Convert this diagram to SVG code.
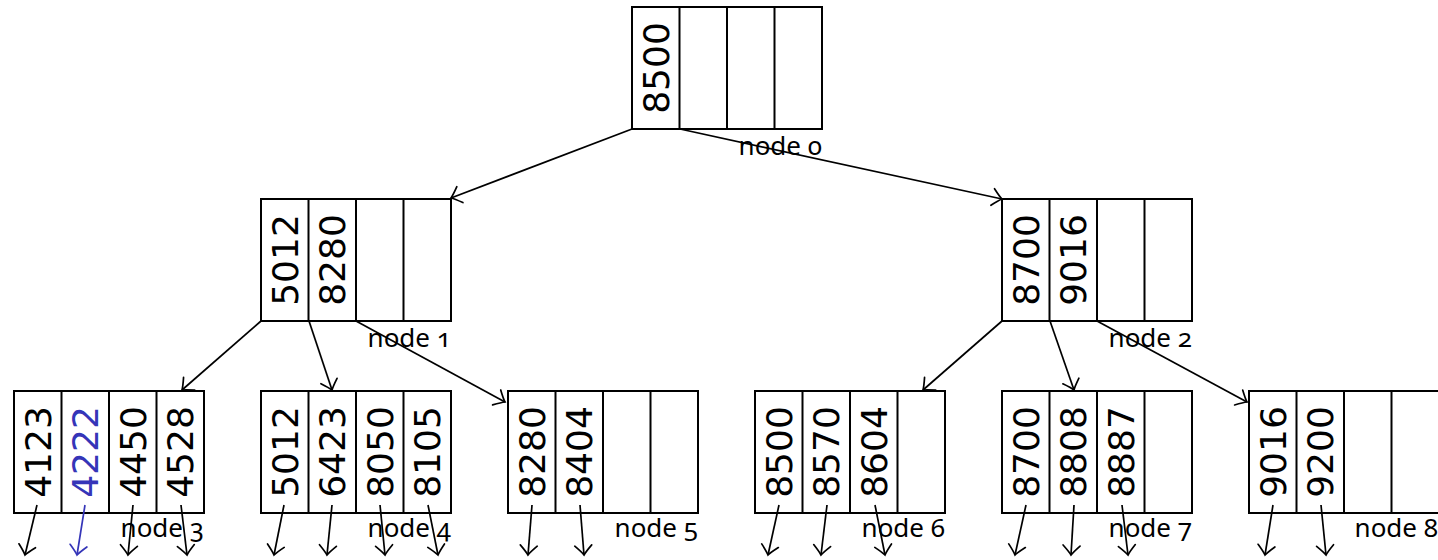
<svg xmlns="http://www.w3.org/2000/svg" width="1438" height="560" viewBox="0 0 1438 560">
  <defs>
    <style>
      .box { fill: #ffffff; stroke: #000000; stroke-width: 2; }
      .div { stroke: #000000; stroke-width: 2; }
      .key { font-family: "DejaVu Sans", "Liberation Sans", sans-serif; font-size: 36px; fill: #000000; text-anchor: middle; }
      .key.hl { fill: #3535b8; }
      .lbl { font-family: "Noto Sans", "Open Sans", sans-serif; font-size: 26px; fill: #000000; text-anchor: end; font-variant-numeric: oldstyle-nums; font-feature-settings: "onum" 1; }
      .edge { fill: none; stroke: #000000; stroke-width: 1.7; marker-end: url(#tip); }
      .edge.hl { stroke: #3535b8; marker-end: url(#tipBlue); }
    </style>
    <marker id="tip" markerUnits="userSpaceOnUse" markerWidth="28" markerHeight="28" viewBox="-14 -14 28 28" refX="0" refY="0" orient="auto">
      <path d="M -9.5 -8.5 Q -3 -2 0 0 Q -3 2 -9.5 8.5" fill="none" stroke="#000000" stroke-width="1.7" stroke-linecap="round"/>
    </marker>
    <marker id="tipBlue" markerUnits="userSpaceOnUse" markerWidth="28" markerHeight="28" viewBox="-14 -14 28 28" refX="0" refY="0" orient="auto">
      <path d="M -9.5 -8.5 Q -3 -2 0 0 Q -3 2 -9.5 8.5" fill="none" stroke="#3535b8" stroke-width="1.7" stroke-linecap="round"/>
    </marker>
  </defs>

  <rect x="0" y="0" width="1438" height="560" fill="#ffffff"/>

  <!-- tree nodes: four key slots each, 47.5 x 122 per slot -->
  <g id="node0">
    <rect class="box" x="632" y="7" width="190" height="122"/>
    <path class="div" d="M679.5 7V129M727 7V129M774.5 7V129"/>
    <text class="key" transform="translate(655.75 68) rotate(-90)" y="13">8500</text>
    <text class="lbl" x="822" y="155">node 0</text>
  </g>

  <g id="node1">
    <rect class="box" x="261" y="199" width="190" height="122"/>
    <path class="div" d="M308.5 199V321M356 199V321M403.5 199V321"/>
    <text class="key" transform="translate(284.75 260) rotate(-90)" y="13">5012</text>
    <text class="key" transform="translate(332.25 260) rotate(-90)" y="13">8280</text>
    <text class="lbl" x="451" y="347">node 1</text>
  </g>

  <g id="node2">
    <rect class="box" x="1002" y="199" width="190" height="122"/>
    <path class="div" d="M1049.5 199V321M1097 199V321M1144.5 199V321"/>
    <text class="key" transform="translate(1025.75 260) rotate(-90)" y="13">8700</text>
    <text class="key" transform="translate(1073.25 260) rotate(-90)" y="13">9016</text>
    <text class="lbl" x="1192" y="347">node 2</text>
  </g>

  <g id="node3">
    <rect class="box" x="14" y="391" width="190" height="122"/>
    <path class="div" d="M61.5 391V513M109 391V513M156.5 391V513"/>
    <text class="key" transform="translate(37.75 452) rotate(-90)" y="13">4123</text>
    <text class="key hl" transform="translate(85.25 452) rotate(-90)" y="13">4222</text>
    <text class="key" transform="translate(132.75 452) rotate(-90)" y="13">4450</text>
    <text class="key" transform="translate(180.25 452) rotate(-90)" y="13">4528</text>
    <text class="lbl" x="204" y="537">node 3</text>
  </g>

  <g id="node4">
    <rect class="box" x="261" y="391" width="190" height="122"/>
    <path class="div" d="M308.5 391V513M356 391V513M403.5 391V513"/>
    <text class="key" transform="translate(284.75 452) rotate(-90)" y="13">5012</text>
    <text class="key" transform="translate(332.25 452) rotate(-90)" y="13">6423</text>
    <text class="key" transform="translate(379.75 452) rotate(-90)" y="13">8050</text>
    <text class="key" transform="translate(427.25 452) rotate(-90)" y="13">8105</text>
    <text class="lbl" x="451" y="537">node 4</text>
  </g>

  <g id="node5">
    <rect class="box" x="508" y="391" width="190" height="122"/>
    <path class="div" d="M555.5 391V513M603 391V513M650.5 391V513"/>
    <text class="key" transform="translate(531.75 452) rotate(-90)" y="13">8280</text>
    <text class="key" transform="translate(579.25 452) rotate(-90)" y="13">8404</text>
    <text class="lbl" x="698" y="537">node 5</text>
  </g>

  <g id="node6">
    <rect class="box" x="755" y="391" width="190" height="122"/>
    <path class="div" d="M802.5 391V513M850 391V513M897.5 391V513"/>
    <text class="key" transform="translate(778.75 452) rotate(-90)" y="13">8500</text>
    <text class="key" transform="translate(826.25 452) rotate(-90)" y="13">8570</text>
    <text class="key" transform="translate(873.75 452) rotate(-90)" y="13">8604</text>
    <text class="lbl" x="945" y="537">node 6</text>
  </g>

  <g id="node7">
    <rect class="box" x="1002" y="391" width="190" height="122"/>
    <path class="div" d="M1049.5 391V513M1097 391V513M1144.5 391V513"/>
    <text class="key" transform="translate(1025.75 452) rotate(-90)" y="13">8700</text>
    <text class="key" transform="translate(1073.25 452) rotate(-90)" y="13">8808</text>
    <text class="key" transform="translate(1120.75 452) rotate(-90)" y="13">8887</text>
    <text class="lbl" x="1192" y="537">node 7</text>
  </g>

  <g id="node8">
    <rect class="box" x="1249" y="391" width="190" height="122"/>
    <path class="div" d="M1296.5 391V513M1344 391V513M1391.5 391V513"/>
    <text class="key" transform="translate(1272.75 452) rotate(-90)" y="13">9016</text>
    <text class="key" transform="translate(1320.25 452) rotate(-90)" y="13">9200</text>
    <text class="lbl" x="1438" y="537">node 8</text>
  </g>

  <!-- child pointers -->
  <g id="connectors">
    <line class="edge" x1="632" y1="129" x2="451" y2="198"/>
    <line class="edge" x1="680" y1="129" x2="1002" y2="199"/>

    <line class="edge" x1="261" y1="321" x2="182" y2="390"/>
    <line class="edge" x1="309" y1="321" x2="332" y2="390"/>
    <line class="edge" x1="356" y1="321" x2="505" y2="402"/>

    <line class="edge" x1="1002" y1="321" x2="923" y2="390"/>
    <line class="edge" x1="1050" y1="321" x2="1074" y2="390"/>
    <line class="edge" x1="1097" y1="321" x2="1247" y2="402"/>

    <line class="edge" x1="37" y1="505" x2="25" y2="555"/>
    <line class="edge hl" x1="85" y1="505" x2="77" y2="555"/>
    <line class="edge" x1="133" y1="505" x2="128" y2="555"/>
    <line class="edge" x1="181" y1="505" x2="187" y2="555"/>

    <line class="edge" x1="284" y1="505" x2="274" y2="555"/>
    <line class="edge" x1="332" y1="505" x2="327" y2="555"/>
    <line class="edge" x1="380" y1="505" x2="385" y2="555"/>
    <line class="edge" x1="428" y1="505" x2="438" y2="555"/>

    <line class="edge" x1="532" y1="505" x2="528" y2="555"/>
    <line class="edge" x1="580" y1="505" x2="584" y2="555"/>

    <line class="edge" x1="779" y1="505" x2="768" y2="555"/>
    <line class="edge" x1="827" y1="505" x2="821" y2="555"/>
    <line class="edge" x1="875" y1="505" x2="885" y2="555"/>

    <line class="edge" x1="1026" y1="505" x2="1015" y2="555"/>
    <line class="edge" x1="1074" y1="505" x2="1071" y2="555"/>
    <line class="edge" x1="1122" y1="505" x2="1128" y2="555"/>

    <line class="edge" x1="1273" y1="505" x2="1265" y2="555"/>
    <line class="edge" x1="1321" y1="505" x2="1326" y2="555"/>
  </g>
</svg>
